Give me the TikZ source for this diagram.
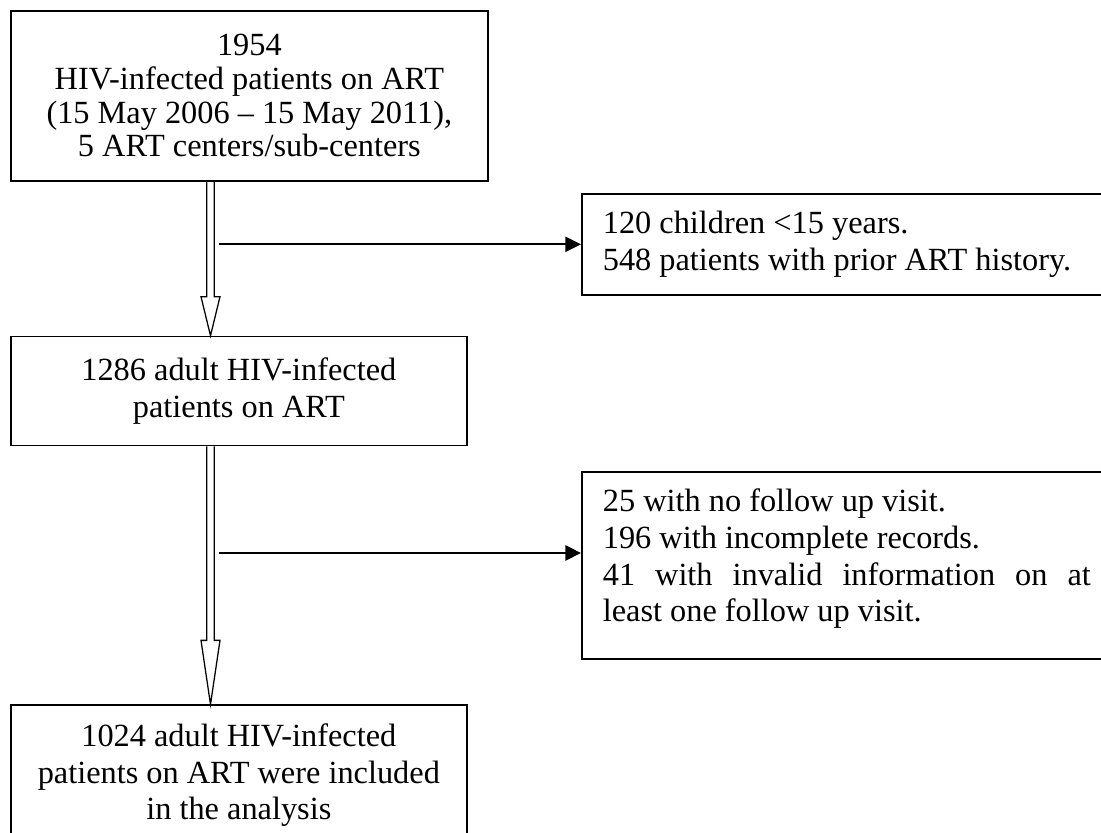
\documentclass[tikz,border=0pt]{standalone}
\usepackage{fontspec}
\setmainfont{Liberation Serif}
\usetikzlibrary{arrows.meta,positioning,calc}

% hollow block arrow: start, tip, head length
\newcommand{\blockarrow}[3]{%
  \draw[hollow] ($(#1)+(-0.095,0)$) -- ($(#2)+(-0.095,#3)$) -- ($(#2)+(-0.2375,#3)$)
    -- (#2) -- ($(#2)+(0.2375,#3)$) -- ($(#2)+(0.095,#3)$) -- ($(#1)+(0.095,0)$);%
}

\begin{document}
\begin{tikzpicture}[
    flow/.style={rectangle, draw, line width=1.2pt, align=center, inner sep=0pt,
                 font=\fontsize{23}{26.1}\selectfont},
    excl/.style={rectangle, draw, line width=1.2pt, text width=12.2cm, inner xsep=0.525cm,
                 inner ysep=0pt, font=\fontsize{23}{26.1}\selectfont},
    hollow/.style={line width=0.9pt, line join=miter},
    exclarrow/.style={-{Triangle[length=0.39cm, width=0.38cm]}, line width=1.2pt}
]
\useasboundingbox (0,0) rectangle (27.525,-20.825);
\clip (0,0) rectangle (27.525,-20.825);

% Main flow
\node[flow, anchor=north west, minimum width=11.925cm, minimum height=4.25cm,
      font=\fontsize{23}{24}\selectfont] (intake) at (0.25,-0.25)
  {1954\\HIV-infected patients on ART\\(15 May 2006 -- 15 May 2011),\\5 ART centers/sub-centers};
\node[flow, below=3.85cm of intake.south west, anchor=north west,
      minimum width=11.4cm, minimum height=2.725cm] (adults)
  {1286 adult HIV-infected\\patients on ART};
\node[flow, below=6.45cm of adults.south west, anchor=north west,
      minimum width=11.4cm, minimum height=3.5cm] (included)
  {1024 adult HIV-infected\\patients on ART were included\\in the analysis};

% Exclusions
\node[excl, align=flush left, anchor=north west, minimum height=2.525cm] (excl1) at (14.525,-4.825)
  {120 children <15 years.\par
   548 patients with prior ART history.};
\node[excl, align=justify, anchor=north west, minimum height=4.675cm] (excl2) at (14.525,-11.775)
  {25 with no follow up visit.\par
   196 with incomplete records.\par
   41 with invalid information on at\linebreak least one follow up visit.\rule[-0.5cm]{0pt}{0pt}};

% Arrows
\coordinate (stem1) at ($(intake.south west)+(5.0125,0)$);
\coordinate (tip1) at ($(adults.north west)+(5.0125,0)$);
\coordinate (stem2) at ($(adults.south west)+(5.0125,0)$);
\coordinate (tip2) at ($(included.north west)+(5.0125,0)$);
\blockarrow{stem1}{tip1}{0.975}
\blockarrow{stem2}{tip2}{1.6}

\coordinate (branch) at (5.475,-6.1);
\coordinate (exit) at (5.475,-13.825);
\draw[exclarrow] (excl1.west -| branch) -- (excl1.west);
\draw[exclarrow] (exit) -- (exit -| excl2.west);

\end{tikzpicture}
\end{document}
